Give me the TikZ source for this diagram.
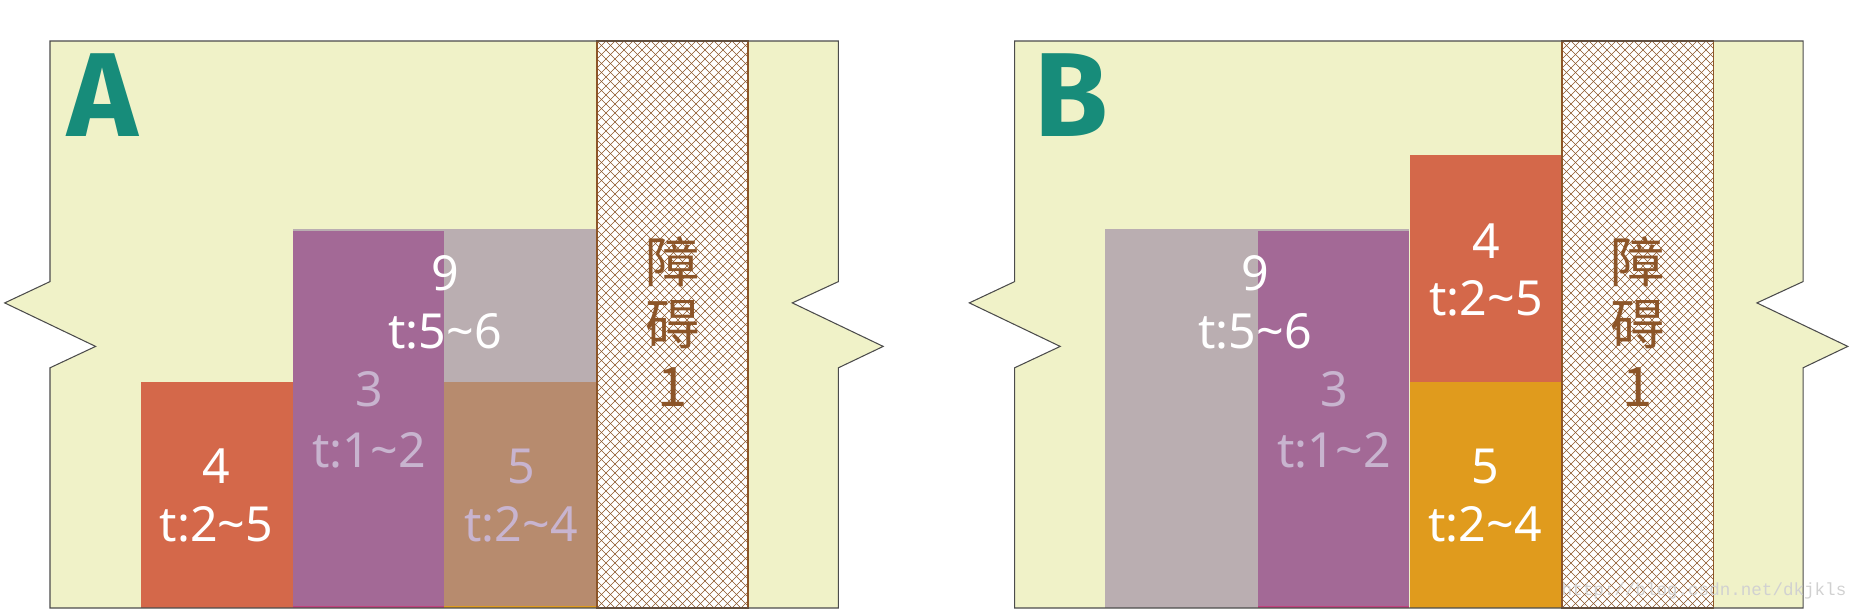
\documentclass[tikz,border=0pt]{standalone}
\usepackage{fontspec}
\setmainfont{Noto Sans}
\newfontfamily\cjk{Noto Sans CJK SC}
\newfontfamily\tagfont{Fira Sans}
\newfontfamily\wmfont{Liberation Mono}
\definecolor{paper}{HTML}{F0F2C8}
\definecolor{redb}{HTML}{D4684A}
\definecolor{purb}{HTML}{A36996}
\definecolor{greyb}{HTML}{BAAEB1}
\definecolor{tanb}{HTML}{B78B6E}
\definecolor{orb}{HTML}{E09B1D}
\definecolor{pinkb}{HTML}{C0427E}
\definecolor{lav}{HTML}{C8B4CF}
\definecolor{tealb}{HTML}{178C7A}
\definecolor{hatchc}{HTML}{8C5528}
\begin{document}
\begin{tikzpicture}[x=0.02cm, y=-0.02cm,
  lbl/.style={anchor=base, inner sep=0pt, font=\fontsize{27.5}{30}\selectfont},
  obs/.style={inner sep=0pt, text=hatchc, font=\cjk\fontsize{31}{34}\selectfont},
  tag/.style={inner sep=0pt, text=tealb, font=\tagfont\bfseries\fontsize{68}{72}\selectfont},
  hatch/.style={draw=hatchc, line width=0.3pt}]
  \useasboundingbox (0,0) rectangle (1851,609);

  % Panels
  \foreach \ox in {0,964.6} {
    \fill[paper] (\ox+50,41) -- (\ox+838.4,41) -- (\ox+838.4,281.6) -- (\ox+792.3,302.9)
      -- (\ox+883.2,346.4) -- (\ox+838.4,367.8) -- (\ox+838.4,608) -- (\ox+50,608)
      -- (\ox+50,367.8) -- (\ox+95.6,346.4) -- (\ox+4.7,302.9) -- (\ox+50,281.6) -- cycle;
  }

  % Blocks in A
  \fill[greyb] (293,229) rectangle (597,382);
  \fill[redb] (141,382) rectangle (293,608);
  \fill[purb] (293,231) rectangle (444,608);
  \fill[tanb] (444,382) rectangle (597,608);
  \fill[pinkb] (293,605.5) rectangle (444,608);
  \fill[orb] (444,605.5) rectangle (597,608);

  % Blocks in B
  \fill[greyb] (1105,229) rectangle (1409,608);
  \fill[purb] (1258,231) rectangle (1409,608);
  \fill[redb] (1410,155) rectangle (1561,382);
  \fill[orb] (1410,382) rectangle (1561,608);
  \fill[pinkb] (1258,605.5) rectangle (1409,608);

  % Obstacles
  \foreach \hx in {597,1562} {
    \fill[white] (\hx,41) rectangle (\hx+151,608);
    \begin{scope}
      \clip (\hx,41) rectangle (\hx+151,608);
      \foreach \k in {-603,-594,...,760} {
        \draw[hatch] (\hx+\k,41) -- ++(600,600);
        \draw[hatch] (\hx+\k,41) -- ++(-600,600);
      }
    \end{scope}
    \draw[hatchc, line width=0.6pt] (\hx,41) rectangle (\hx+151,608);
  }

  % Panel outlines
  \foreach \ox in {0,964.6} {
    \draw[black!70, line width=0.6pt] (\ox+50,41) -- (\ox+838.4,41) -- (\ox+838.4,281.6) -- (\ox+792.3,302.9)
      -- (\ox+883.2,346.4) -- (\ox+838.4,367.8) -- (\ox+838.4,608) -- (\ox+50,608)
      -- (\ox+50,367.8) -- (\ox+95.6,346.4) -- (\ox+4.7,302.9) -- (\ox+50,281.6) -- cycle;
  }

  % Labels A
  \node[tag] (ta) at (103,95) {A};
  \node[lbl, text=white] (a9) at (445,290) {9};
  \node[lbl, text=white] (a9t) at (445,348) {t:5\textasciitilde6};
  \node[lbl, text=lav] (a3) at (369,406.7) {3};
  \node[lbl, text=lav] (a3t) at (369,467) {t:1\textasciitilde2};
  \node[lbl, text=white] (a4) at (216.5,483.5) {4};
  \node[lbl, text=white] (a4t) at (216.5,541.7) {t:2\textasciitilde5};
  \node[lbl, text=lav] (a5) at (521,483) {5};
  \node[lbl, text=lav] (a5t) at (521,541) {t:2\textasciitilde4};
  \node[obs] (ao1) at (672.6,261.5) {障};
  \node[obs] (ao2) at (672.6,325) {碍};
  \node[obs] (ao3) at (672.6,386.6) {1};

  % Labels B
  \node[tag] (tb) at (1071.5,95) {B};
  \node[lbl, text=white] (b9) at (1255,290) {9};
  \node[lbl, text=white] (b9t) at (1255,348) {t:5\textasciitilde6};
  \node[lbl, text=lav] (b3) at (1334,406.7) {3};
  \node[lbl, text=lav] (b3t) at (1334,467) {t:1\textasciitilde2};
  \node[lbl, text=white] (b4) at (1486,258) {4};
  \node[lbl, text=white] (b4t) at (1486,315) {t:2\textasciitilde5};
  \node[lbl, text=white] (b5) at (1485,483) {5};
  \node[lbl, text=white] (b5t) at (1485,541) {t:2\textasciitilde4};
  \node[obs] (bo1) at (1637.7,261.5) {障};
  \node[obs] (bo2) at (1637.7,325) {碍};
  \node[obs] (bo3) at (1637.7,386.6) {1};

  % Watermark
  \node[anchor=base, inner sep=0pt, text=black!18, font=\wmfont\fontsize{10}{11}\selectfont] (wm) at (1704,595) {http://blog.csdn.net/dkjkls};
\end{tikzpicture}
\end{document}
